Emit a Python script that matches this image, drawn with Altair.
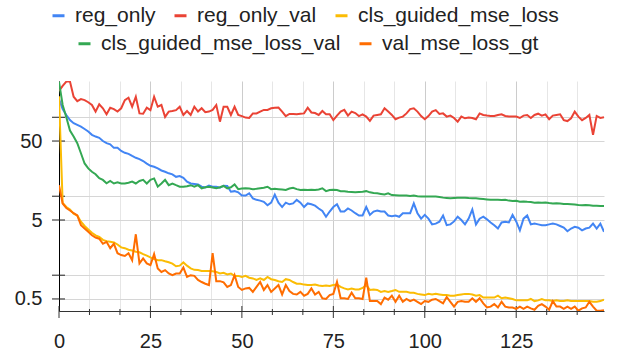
import altair as alt
import pandas as pd

FONT = "Liberation Sans"

epochs = list(range(150))

series_names = ["reg_only", "reg_only_val", "cls_guided_mse_loss",
                "cls_guided_mse_loss_val", "val_mse_loss_gt"]
series_colors = ["#4285F4", "#EA4335", "#FBBC04", "#34A853", "#FF6D01"]

reg_only = [
    170, 127, 107, 92, 84, 80, 76, 71, 66, 60,
    57, 55, 50, 47, 45.5, 41, 41, 37.5, 35.5, 34.4,
    32.4, 30.7, 29.5, 27.9, 25.9, 24.3, 23.6, 22.5, 21.2, 20.4,
    19.5, 18.9, 17.6, 18, 17.1, 15.3, 14.5, 14.3, 14.1, 13.2,
    12.9, 13.6, 13.2, 13.2, 12.8, 13.6, 13.5, 11.4, 11.6, 11.2,
    10.2, 10.2, 10.9, 9.4, 9.0, 8.8, 8.5, 7.7, 8.3, 10.5,
    8.3, 7.3, 8.3, 7.9, 8.1, 9.0, 8.3, 7.3, 8.1, 7.9,
    7.6, 7.0, 6.5, 5.5, 6.4, 7.3, 7.9, 6.4, 6.4, 7.0,
    6.6, 6.1, 5.7, 5.7, 7.3, 5.8, 6.4, 6.6, 6.4, 6.4,
    5.7, 5.6, 5.7, 5.5, 6.1, 6.1, 6.1, 8.1, 6.1, 5.2,
    5.8, 5.2, 4.4, 4.5, 4.75, 5.7, 4.3, 4.4, 4.8, 5.5,
    5.0, 4.4, 5.2, 6.8, 4.4, 5.2, 5.5, 5.1, 4.65, 4.3,
    3.9, 4.65, 4.75, 4.65, 5.8, 4.8, 3.7, 5.2, 5.7, 4.4,
    4.5, 4.4, 4.3, 4.3, 4.4, 4.5, 4.4, 4.2, 4.0, 3.6,
    3.9, 4.1, 4.0, 3.7, 3.9, 4.0, 4.5, 3.9, 4.5, 3.55,
]

reg_only_val = [
    215, 250, 283, 283, 182, 160, 170, 165, 155, 143,
    118, 146, 130, 109, 132, 127, 118, 130, 165, 177,
    136, 182, 112, 111, 132, 123, 182, 136, 143, 101,
    118, 120, 123, 136, 107, 120, 107, 136, 118, 130,
    116, 118, 124, 143, 88, 136, 136, 107, 136, 107,
    103.5, 99, 98, 112, 112, 118, 124, 124, 130, 132,
    133, 118, 103.5, 110, 110, 109, 111, 112, 132, 115,
    113, 107, 120, 109, 109, 92, 105, 118, 124, 105,
    118, 113, 103.5, 109, 102, 90, 105, 107, 109, 130,
    118, 107, 94.5, 99, 102, 112, 127, 130, 118, 103.5,
    94.5, 103.5, 118, 123, 110, 112, 102, 105, 98, 88,
    102, 97, 99, 98, 94.5, 112, 107, 105, 104, 104,
    107, 109, 104, 102, 102, 102, 98, 105, 107, 98,
    107, 111, 105, 109, 94.5, 105, 107, 109, 92, 89.5,
    97, 118, 102, 92, 98, 107, 60, 104, 98, 100,
]

cls_guided_mse_loss = [
    185, 8.2, 7.3, 6.8, 6.0, 5.7, 4.75, 4.2, 3.8, 3.45,
    3.2, 3.05, 2.8, 2.7, 2.65, 2.6, 2.45, 2.25, 2.2, 2.1,
    2.05, 1.98, 1.95, 1.85, 1.77, 1.68, 1.6, 1.55, 1.55, 1.5,
    1.46, 1.4, 1.3, 1.32, 1.45, 1.32, 1.22, 1.17, 1.16, 1.13,
    1.13, 1.13, 1.12, 1.10, 1.05, 1.07, 1.02, 1.05, 0.98, 0.98,
    0.95, 0.98, 0.93, 0.91, 0.87, 0.91, 0.87, 0.95, 0.89, 0.87,
    0.84, 0.82, 0.89, 0.87, 0.82, 0.78, 0.78, 0.76, 0.75, 0.75,
    0.76, 0.74, 0.73, 0.74, 0.73, 0.75, 0.76, 0.71, 0.68, 0.66,
    0.68, 0.66, 0.66, 0.69, 0.75, 0.65, 0.66, 0.65, 0.615, 0.63,
    0.615, 0.63, 0.65, 0.615, 0.615, 0.615, 0.6, 0.6, 0.58, 0.57,
    0.56, 0.58, 0.57, 0.58, 0.57, 0.56, 0.56, 0.55, 0.55, 0.56,
    0.57, 0.58, 0.58, 0.57, 0.55, 0.56, 0.52, 0.52, 0.52, 0.52,
    0.55, 0.51, 0.52, 0.51, 0.50, 0.48, 0.48, 0.48, 0.48, 0.50,
    0.47, 0.48, 0.50, 0.48, 0.48, 0.47, 0.48, 0.47, 0.47, 0.48,
    0.47, 0.47, 0.47, 0.47, 0.47, 0.47, 0.46, 0.46, 0.47, 0.49,
]

cls_guided_mse_loss_val = [
    280, 143, 100, 68, 57, 47, 35, 26, 22.5, 20.4,
    19.0, 16.9, 16.1, 14.6, 15.6, 14.5, 15.0, 14.5, 14.5, 14.8,
    15.3, 14.5, 15.6, 16.1, 14.5, 16.1, 16.8, 13.2, 14.5, 16.1,
    13.8, 14.5, 13.8, 13.2, 13.2, 13.4, 13.8, 13.2, 13.8, 12.6,
    13.0, 13.2, 12.9, 12.6, 13.0, 13.5, 12.6, 13.0, 14.1, 12.3,
    12.5, 12.6, 12.5, 12.3, 12.4, 12.6, 12.8, 13.2, 12.3, 12.4,
    12.3, 12.2, 12.0, 12.5, 12.8, 12.3, 12.0, 12.1, 12.0, 12.1,
    12.0, 12.2, 12.6, 11.6, 12.0, 12.1, 12.0, 11.6, 11.6, 11.4,
    11.3, 11.2, 11.3, 11.4, 11.6, 11.2, 11.0, 10.9, 10.7, 10.5,
    10.9, 10.35, 10.3, 10.2, 10.2, 10.2, 10.1, 10.2, 10.0, 9.9,
    9.9, 9.9, 9.9, 9.9, 9.8, 9.6, 9.5, 9.4, 9.5, 9.6,
    9.6, 9.6, 9.5, 9.45, 9.4, 9.3, 9.2, 9.1, 9.0, 9.0,
    9.05, 8.95, 9.0, 8.8, 8.7, 8.75, 8.5, 8.6, 8.5, 8.45,
    8.3, 8.35, 8.3, 8.35, 8.2, 8.1, 8.15, 8.1, 8.0, 7.95,
    7.9, 7.85, 7.75, 7.7, 7.75, 7.7, 7.6, 7.55, 7.5, 7.5,
]

val_mse_loss_gt = [
    13.8, 8.1, 7.1, 6.6, 6.1, 5.7, 4.3, 3.9, 3.55, 3.2,
    3.0, 2.9, 2.5, 2.65, 2.2, 2.5, 1.9, 1.8, 1.75, 1.9,
    1.55, 3.3, 1.41, 1.63, 1.41, 1.34, 1.85, 1.22, 1.1, 1.16,
    1.05, 1.0, 1.05, 1.05, 1.25, 0.95, 1.0, 0.98, 0.87, 0.82,
    0.78, 0.75, 1.9, 0.84, 0.84, 0.81, 0.71, 0.75, 1.0, 0.71,
    0.65, 0.68, 0.69, 0.615, 0.71, 0.82, 0.65, 0.75, 0.615, 0.68,
    0.75, 0.57, 0.75, 0.63, 0.58, 0.57, 0.615, 0.55, 0.58, 0.68,
    0.57, 0.615, 0.51, 0.50, 0.56, 0.58, 0.82, 0.51, 0.51, 0.50,
    0.60, 0.51, 0.51, 0.50, 0.93, 0.47, 0.47, 0.47, 0.43, 0.52,
    0.49, 0.55, 0.46, 0.55, 0.46, 0.50, 0.47, 0.49, 0.46, 0.43,
    0.47, 0.46, 0.49, 0.50, 0.47, 0.44, 0.53, 0.46, 0.40, 0.46,
    0.47, 0.46, 0.46, 0.51, 0.46, 0.51, 0.44, 0.39, 0.40, 0.43,
    0.39, 0.46, 0.40, 0.39, 0.39, 0.375, 0.40, 0.375, 0.40, 0.38,
    0.365, 0.41, 0.43, 0.40, 0.365, 0.47, 0.40, 0.40, 0.375, 0.40,
    0.375, 0.40, 0.355, 0.38, 0.39, 0.46, 0.40, 0.355, 0.355, 0.36,
]

x_major_ticks = [0, 25, 50, 75, 100, 125]
x_minor_ticks = [8.333, 16.667, 33.333, 41.667, 58.333, 66.667, 83.333,
                 91.667, 108.333, 116.667, 133.333, 141.667]
y_ticks = [0.5, 1, 5, 10, 50, 100]
y_labeled = [0.5, 5, 50]

all_series = [reg_only, reg_only_val, cls_guided_mse_loss,
              cls_guided_mse_loss_val, val_mse_loss_gt]
rows = []
for name, vals in zip(series_names, all_series):
    for e, v in zip(epochs, vals):
        rows.append({"epoch": e, "series": name, "value": v})
df = pd.DataFrame(rows)

W, H = 545, 230

xscale = alt.Scale(domain=[0, 149], nice=False, zero=False)
yscale = alt.Scale(type="log", domain=[0.352, 288], nice=False)

x_all = sorted(x_major_ticks + x_minor_ticks)
major_test = "abs(datum.value - round(datum.value / 25) * 25) < 0.01"

x_axis = alt.Axis(
    values=x_all, title=None, ticks=False, grid=True,
    gridColor={"condition": {"test": major_test, "value": "#cccccc"}, "value": "#e6e6e6"},
    gridWidth=1,
    domainColor="#333333", domainWidth=1,
    labelExpr=major_test + " ? format(datum.value, 'd') : ''",
    labelFont=FONT, labelFontSize=20, labelColor="#222222",
    labelPadding=20, labelFlush=False, labelOverlap=False,
)
y_axis = alt.Axis(
    values=y_ticks, title=None, ticks=False, grid=True,
    gridColor="#d6d6d6", gridWidth=1,
    domainColor="#000000", domainWidth=1,
    labelExpr="indexof(" + str(y_labeled) + ", datum.value) >= 0 ? format(datum.value, '~g') : ''",
    labelFont=FONT, labelFontSize=20, labelColor="#222222",
    labelPadding=17, labelOverlap=False,
)


def legend(x, y):
    return alt.Legend(
        orient="none", legendX=x, legendY=y, direction="horizontal", title=None,
        symbolType="stroke", symbolStrokeWidth=3, symbolSize=144,
        labelFont=FONT, labelFontSize=21, labelColor="#222222", labelLimit=0,
        labelOffset=6, columnPadding=12, padding=0,
    )


base = alt.Chart(df)

lines_a = base.transform_filter(
    alt.FieldOneOfPredicate(field="series", oneOf=series_names[:3])
).mark_line(strokeWidth=2, clip=True).encode(
    x=alt.X("epoch:Q", scale=xscale, axis=x_axis),
    y=alt.Y("value:Q", scale=yscale, axis=y_axis),
    color=alt.Color("series:N",
                    scale=alt.Scale(domain=series_names[:3], range=series_colors[:3]),
                    legend=legend(-11, -76)),
    order="epoch:Q",
)

lines_b = base.transform_filter(
    alt.FieldOneOfPredicate(field="series", oneOf=series_names[3:])
).mark_line(strokeWidth=2, clip=True).encode(
    x=alt.X("epoch:Q", scale=xscale, axis=x_axis),
    y=alt.Y("value:Q", scale=yscale, axis=y_axis),
    color=alt.Color("series:N",
                    scale=alt.Scale(domain=series_names[3:], range=series_colors[3:]),
                    legend=legend(15, -48)),
    order="epoch:Q",
)

ytick_rules = alt.Chart(pd.DataFrame({"v": y_ticks})).mark_rule(
    color="#222222", strokeWidth=1
).encode(
    y=alt.Y("v:Q", scale=yscale, axis=y_axis),
    x=alt.value(-7), x2=alt.value(6),
)

xmajor_rules = alt.Chart(pd.DataFrame({"v": x_major_ticks})).mark_rule(
    color="#333333", strokeWidth=1
).encode(
    x=alt.X("v:Q", scale=xscale, axis=x_axis),
    y=alt.value(H - 5), y2=alt.value(H + 7),
)

xminor_rules = alt.Chart(pd.DataFrame({"v": x_minor_ticks})).mark_rule(
    color="#333333", strokeWidth=1
).encode(
    x=alt.X("v:Q", scale=xscale, axis=x_axis),
    y=alt.value(H - 2), y2=alt.value(H + 4),
)

chart = alt.layer(
    ytick_rules, xmajor_rules, xminor_rules, lines_a, lines_b
).resolve_scale(
    color="independent"
).properties(
    width=W, height=H,
    autosize=alt.AutoSizeParams(type="none"),
    padding={"left": 59, "top": 81, "right": 16, "bottom": 47},
).configure_view(stroke=None)

chart.save("out.html", embed_options={"renderer": "svg", "actions": False})
